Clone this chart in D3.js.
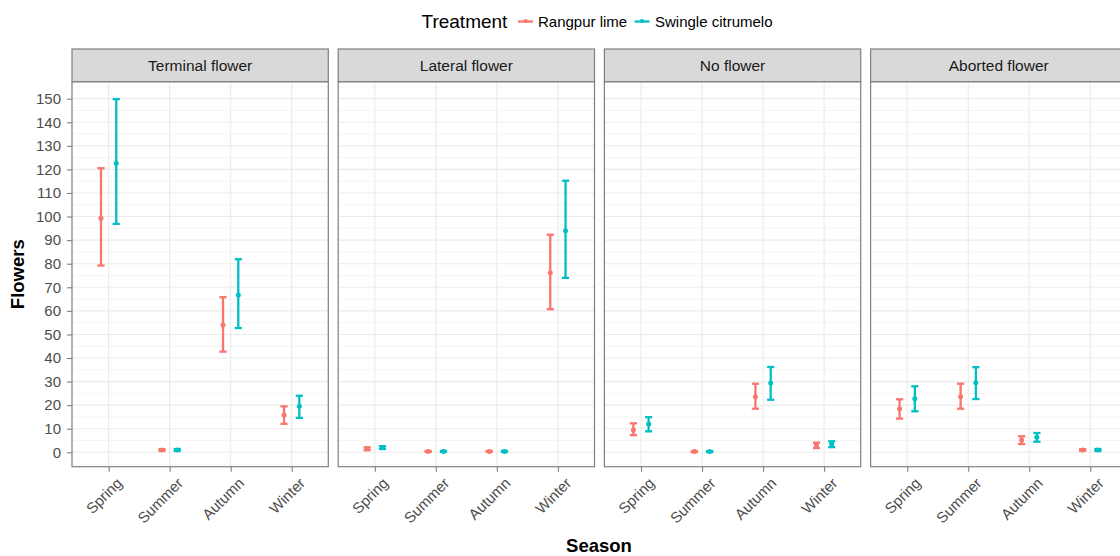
<!DOCTYPE html>
<html>
<head>
<meta charset="utf-8">
<script src="https://cdn.jsdelivr.net/npm/d3@7"></script>
<style>
  html, body { margin: 0; padding: 0; background: #fff; }
  svg { display: block; font-family: "Liberation Sans", Arial, sans-serif; }
</style>
</head>
<body>
<svg id="chart" width="1120" height="556"></svg>
<script>
// ---------------- DATA ----------------
const seasons = ["Spring", "Summer", "Autumn", "Winter"];
const panels = ["Terminal flower", "Lateral flower", "No flower", "Aborted flower"];
const treatments = ["Rangpur lime", "Swingle citrumelo"];
const yTicks = [0, 10, 20, 30, 40, 50, 60, 70, 80, 90, 100, 110, 120, 130, 140, 150];

// per panel (rows) x season (columns)
const rangpurMean  = [[99.3, 1.0, 54.0, 15.8], [1.5, 0.4, 0.4, 76.2], [9.5, 0.3, 23.6, 3.1], [18.5, 23.6, 5.2, 1.0]];
const rangpurLower = [[79.2, 0.7, 42.7, 12.1], [0.9, 0.2, 0.2, 60.7], [7.3, 0.1, 18.5, 1.8], [14.3, 18.5, 3.5, 0.7]];
const rangpurUpper = [[120.5, 1.3, 65.8, 19.5], [2.1, 0.6, 0.6, 92.3], [12.3, 0.5, 29.1, 4.1], [22.5, 29.1, 6.8, 1.3]];

const swingleMean  = [[122.6, 1.0, 66.7, 19.5], [2.0, 0.4, 0.4, 94.0], [12.0, 0.3, 29.4, 3.5], [22.7, 29.5, 6.4, 1.0]];
const swingleLower = [[96.9, 0.6, 52.7, 14.6], [1.4, 0.2, 0.2, 74.0], [8.9, 0.1, 22.3, 2.2], [17.4, 22.6, 4.5, 0.6]];
const swingleUpper = [[149.8, 1.4, 81.9, 24.0], [2.6, 0.6, 0.6, 115.2], [14.9, 0.5, 36.2, 4.7], [28.0, 36.1, 8.2, 1.4]];

const colors = ["#F8766D", "#00BFC4"];

// ---------------- LAYOUT ----------------
const svg = d3.select("#chart");
const panelLeft = 72, panelW = 256.3, panelGap = 9.9;
const stripTop = 49, stripBottom = 81.7, plotBottom = 466.7;

const y = d3.scaleLinear().domain([-6.1, 157.2]).range([plotBottom, stripBottom]);
const x = d3.scalePoint().domain(seasons).range([0, panelW]).padding(0.6);
const dodge = x.step() * 0.125;

const series = [
  { name: treatments[0], mean: rangpurMean, lo: rangpurLower, hi: rangpurUpper, color: colors[0], off: -dodge },
  { name: treatments[1], mean: swingleMean, lo: swingleLower, hi: swingleUpper, color: colors[1], off: dodge }
];

const minorTicks = d3.range(5, 160, 10).concat([-5]);

panels.forEach((pname, pi) => {
  const x0 = panelLeft + pi * (panelW + panelGap);
  const g = svg.append("g").attr("transform", `translate(${x0},0)`);

  g.append("rect").attr("x", 0).attr("y", stripBottom).attr("width", panelW)
    .attr("height", plotBottom - stripBottom).attr("fill", "#fff");

  g.selectAll(".minor").data(minorTicks.filter(v => y(v) > stripBottom && y(v) < plotBottom))
    .enter().append("line")
    .attr("x1", 0).attr("x2", panelW)
    .attr("y1", d => y(d)).attr("y2", d => y(d))
    .attr("stroke", "#f5f5f5").attr("stroke-width", 1);

  g.selectAll(".majorY").data(yTicks).enter().append("line")
    .attr("x1", 0).attr("x2", panelW)
    .attr("y1", d => y(d)).attr("y2", d => y(d))
    .attr("stroke", "#ebebeb").attr("stroke-width", 1.1);
  g.selectAll(".majorX").data(seasons).enter().append("line")
    .attr("x1", d => x(d)).attr("x2", d => x(d))
    .attr("y1", stripBottom).attr("y2", plotBottom)
    .attr("stroke", "#ebebeb").attr("stroke-width", 1.1);

  series.forEach(s => {
    const sg = g.append("g");
    seasons.forEach((season, si) => {
      const cx = x(season) + s.off;
      const lo = s.lo[pi][si], hi = s.hi[pi][si], m = s.mean[pi][si];
      sg.append("line").attr("x1", cx).attr("x2", cx).attr("y1", y(lo)).attr("y2", y(hi))
        .attr("stroke", s.color).attr("stroke-width", 2.3);
      [lo, hi].forEach(v => {
        sg.append("line").attr("x1", cx - 3.6).attr("x2", cx + 3.6).attr("y1", y(v)).attr("y2", y(v))
          .attr("stroke", s.color).attr("stroke-width", 2.3);
      });
      sg.append("circle").attr("cx", cx).attr("cy", y(m)).attr("r", 2.5).attr("fill", s.color);
    });
  });

  g.append("rect").attr("x", 0).attr("y", stripBottom).attr("width", panelW)
    .attr("height", plotBottom - stripBottom).attr("fill", "none")
    .attr("stroke", "#7f7f7f").attr("stroke-width", 1.2);

  g.append("rect").attr("x", 0).attr("y", stripTop).attr("width", panelW)
    .attr("height", stripBottom - stripTop).attr("fill", "#d9d9d9")
    .attr("stroke", "#7f7f7f").attr("stroke-width", 1.2);
  g.append("text").attr("x", panelW / 2).attr("y", (stripTop + stripBottom) / 2)
    .attr("dy", "0.36em").attr("text-anchor", "middle")
    .attr("font-size", 15.5).attr("fill", "#1a1a1a").text(pname);

  const xa = g.append("g").attr("transform", `translate(0,${plotBottom})`)
    .call(d3.axisBottom(x).tickSize(5).tickPadding(0).tickFormat(""));
  xa.select(".domain").remove();
  xa.selectAll(".tick line").attr("stroke", "#7f7f7f").attr("stroke-width", 1.1);
  seasons.forEach(season => {
    g.append("text")
      .attr("transform", `translate(${x(season) + 7},${plotBottom + 10}) rotate(-45)`)
      .attr("text-anchor", "end").attr("dy", "0.7em")
      .attr("font-size", 15).attr("fill", "#4d4d4d").text(season);
  });
});

const ya = svg.append("g").attr("transform", `translate(${panelLeft},0)`)
  .call(d3.axisLeft(y).tickValues(yTicks).tickSize(5).tickPadding(6));
ya.select(".domain").remove();
ya.selectAll(".tick line").attr("stroke", "#7f7f7f").attr("stroke-width", 1.1);
ya.selectAll(".tick text").attr("font-size", 15).attr("fill", "#4d4d4d")
  .attr("font-family", "Liberation Sans, Arial, sans-serif");

svg.append("text").attr("transform", `translate(24,${(stripBottom + plotBottom) / 2}) rotate(-90)`)
  .attr("text-anchor", "middle").attr("font-size", 18.5).attr("font-weight", "bold")
  .attr("fill", "#000").text("Flowers");
svg.append("text").attr("x", 599).attr("y", 552)
  .attr("text-anchor", "middle").attr("font-size", 18.5).attr("font-weight", "bold")
  .attr("fill", "#000").text("Season");

const lg = svg.append("g");
const ly = 21.5;
lg.append("text").attr("x", 421.5).attr("y", ly).attr("dy", "0.36em")
  .attr("font-size", 19).attr("fill", "#000").text("Treatment");
const keyX = [518, 634.5];
const labX = [538, 655];
series.forEach((s, i) => {
  lg.append("line").attr("x1", keyX[i]).attr("x2", keyX[i] + 15).attr("y1", ly).attr("y2", ly)
    .attr("stroke", s.color).attr("stroke-width", 2.3);
  lg.append("circle").attr("cx", keyX[i] + 7.5).attr("cy", ly - 0.5).attr("r", 2).attr("fill", s.color);
  lg.append("text").attr("x", labX[i]).attr("y", ly).attr("dy", "0.36em")
    .attr("font-size", 15).attr("fill", "#000").text(s.name);
});
</script>
</body>
</html>
